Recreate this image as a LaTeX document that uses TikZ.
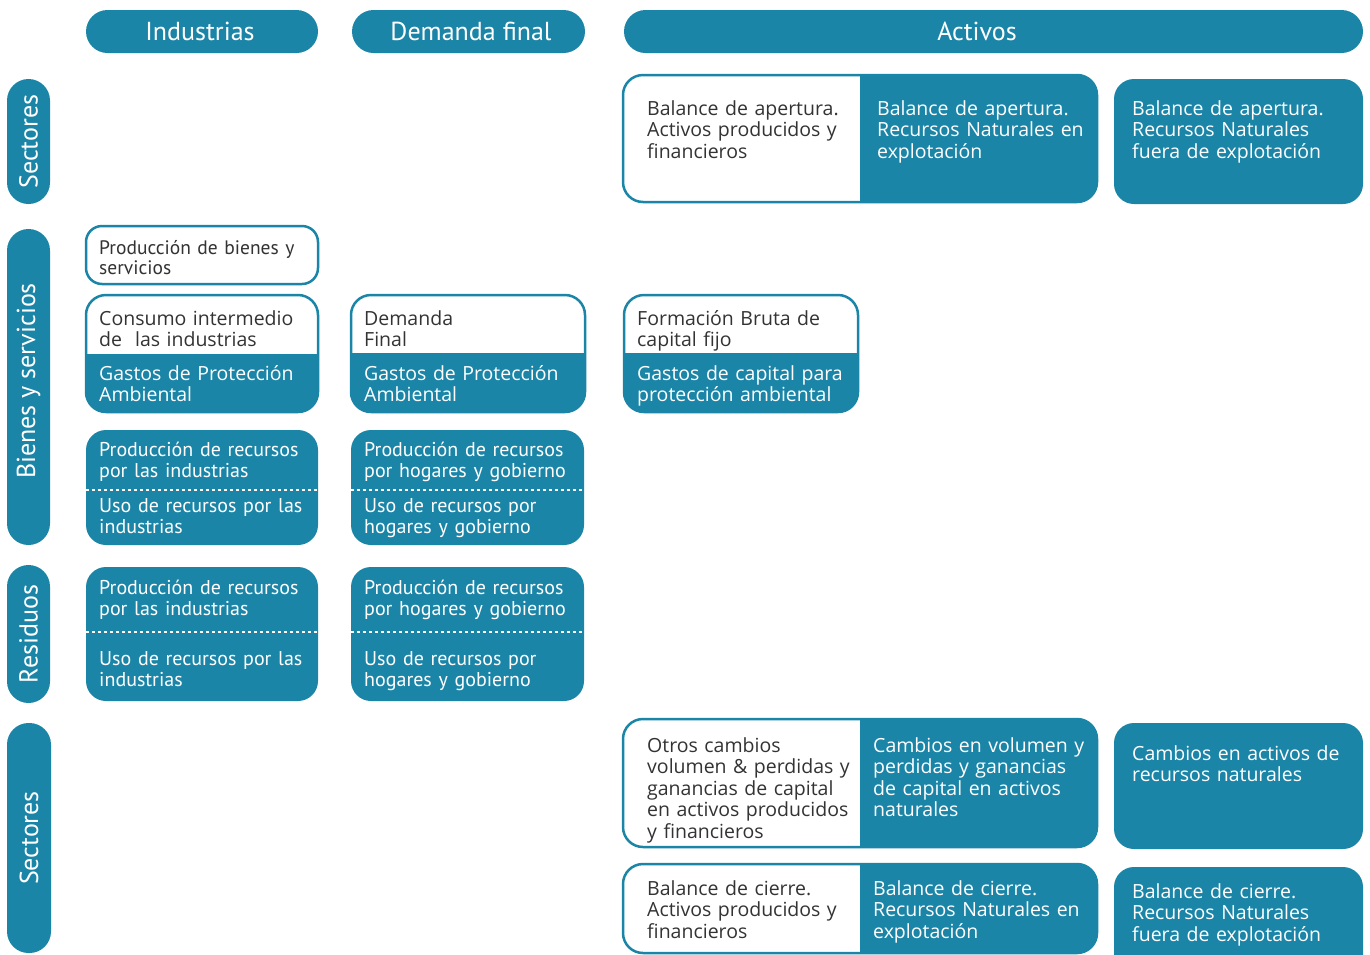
\documentclass[tikz,border=0pt]{standalone}
\usepackage{fontspec}
\setmainfont{Open Sans}
\newfontfamily\hdrfont{PT Sans}
\definecolor{teal1}{RGB}{27,133,168}
\definecolor{txt}{RGB}{51,51,51}
\newcommand\hsplitbox[6]{% x1 y1 x2 y2 ysplit radius
  \fill[teal1, rounded corners=#6] (#1,#2) rectangle (#3,#4);
  \begin{scope}
    \clip[rounded corners=#6] (#1,#2) rectangle (#3,#4);
    \fill[white] (#1,#2) rectangle (#3,#5);
  \end{scope}
  \draw[teal1, line width=2.5, rounded corners=#6] (#1,#2) rectangle (#3,#4);
}
\newcommand\vsplitbox[6]{% x1 y1 x2 y2 xsplit radius
  \fill[teal1, rounded corners=#6] (#1,#2) rectangle (#3,#4);
  \begin{scope}
    \clip[rounded corners=#6] (#1,#2) rectangle (#3,#4);
    \fill[white] (#1,#2) rectangle (#5,#4);
  \end{scope}
  \draw[teal1, line width=2.5, rounded corners=#6] (#1,#2) rectangle (#3,#4);
}
\begin{document}
\begin{tikzpicture}[x=1pt,y=-1pt,
  hdr/.style={text=white, inner sep=0, font=\hdrfont\fontsize{26}{28}\selectfont},
  side/.style={text=white, inner sep=0, rotate=90, font=\hdrfont\fontsize{26}{28}\selectfont},
  dk/.style={anchor=base west, inner sep=0, text width=250, align=left, text=txt, font=\fontsize{19.5}{21.5}\selectfont},
  wt/.style={anchor=base west, inner sep=0, text width=250, align=left, text=white, font=\fontsize{19.5}{21.5}\selectfont},
  tight/.style={font=\hdrfont\fontsize{20}{21.5}\selectfont},
  pill/.style={fill=teal1, rounded corners=21.5},
  tbox/.style={fill=teal1, rounded corners=20},
  wbox/.style={fill=white, draw=teal1, line width=2.5, rounded corners=16},
  dots/.style={white, line width=2, dash pattern=on 3 off 3}]
\useasboundingbox (0,0) rectangle (1370,954);
\clip (0,0) rectangle (1370,954);

% headers
\fill[pill] (86,10) rectangle (318,53);
\node[hdr] (hInd) at (200,31.5) {Industrias};
\fill[pill] (352,10) rectangle (585,53);
\node[hdr] (hDem) at (471,31.5) {Demanda final};
\fill[pill] (624,10) rectangle (1363,53);
\node[hdr] (hAct) at (977,31.5) {Activos};

% side labels
\fill[pill] (7,79) rectangle (50,204);
\node[side] (sSec1) at (28.5,141.5) {Sectores};
\fill[pill] (7,229) rectangle (50,545);
\node[side] (sBie) at (28.5,381) {Bienes y servicios};
\fill[pill] (7,565) rectangle (50,703);
\node[side] (sRes) at (28.5,634) {Residuos};
\fill[pill] (7,723) rectangle (51,953);
\node[side] (sSec2) at (29,838) {Sectores};

% opening balance
\vsplitbox{623}{75}{1097}{202}{860}{20}
\node[dk] (apA) at (647,115) {Balance de apertura.\\Activos producidos y\\financieros};
\node[wt] (apB) at (877,115) {Balance de apertura.\\Recursos Naturales en\\explotación};
\fill[tbox] (1114,79) rectangle (1363,204);
\node[wt] (apC) at (1132,115) {Balance de apertura.\\Recursos Naturales\\fuera de explotación};

% goods and services
\draw[wbox] (86,226) rectangle (318,284);
\node[dk, font=\hdrfont\fontsize{19.5}{20.5}\selectfont] (prodBS) at (99,254) {Producción de bienes y\\servicios};
\hsplitbox{86}{295}{318}{412}{354}{20}
\node[dk] (consI) at (99,325) {Consumo intermedio\\de~ las industrias};
\node[wt] (gpaI) at (99,380) {Gastos de Protección\\Ambiental};
\hsplitbox{351}{295}{585}{412}{353}{20}
\node[dk] (demF) at (364,325) {Demanda\\Final};
\node[wt] (gpaD) at (364,380) {Gastos de Protección\\Ambiental};
\hsplitbox{624}{295}{858}{412}{353}{20}
\node[dk] (fbcf) at (637,325) {Formación Bruta de\\capital fijo};
\node[wt] (gcpa) at (637,380) {Gastos de capital para\\protección ambiental};

% resources (goods)
\fill[tbox] (86,430) rectangle (318,545);
\draw[dots] (86,490) -- (318,490);
\node[wt, tight] (prI1) at (99,456) {Producción de recursos\\por las industrias};
\node[wt, tight] (usI1) at (99,512) {Uso de recursos por las\\industrias};
\fill[tbox] (351,430) rectangle (584,545);
\draw[dots] (351,490) -- (584,490);
\node[wt, tight] (prH1) at (364,456) {Producción de recursos\\por hogares y gobierno};
\node[wt, tight] (usH1) at (364,512) {Uso de recursos por\\hogares y gobierno};

% residues
\fill[tbox] (86,567) rectangle (318,701);
\draw[dots] (86,632) -- (318,632);
\node[wt, tight] (prI2) at (99,594) {Producción de recursos\\por las industrias};
\node[wt, tight] (usI2) at (99,665) {Uso de recursos por las\\industrias};
\fill[tbox] (351,567) rectangle (584,701);
\draw[dots] (351,632) -- (584,632);
\node[wt, tight] (prH2) at (364,594) {Producción de recursos\\por hogares y gobierno};
\node[wt, tight] (usH2) at (364,665) {Uso de recursos por\\hogares y gobierno};

% other changes
\vsplitbox{623}{719}{1097}{847}{860}{20}
\node[dk] (ocA) at (647,752) {Otros cambios\\volumen \& perdidas y\\ganancias de capital\\en activos producidos\\y financieros};
\node[wt] (ocB) at (873,752) {Cambios en volumen y\\perdidas y ganancias\\de capital en activos\\naturales};
\fill[tbox] (1114,723) rectangle (1363,849);
\node[wt] (ocC) at (1132,760) {Cambios en activos de\\recursos naturales};

% closing balance
\vsplitbox{623}{864}{1097}{953}{860}{20}
\node[dk] (ciA) at (647,895) {Balance de cierre.\\Activos producidos y\\financieros};
\node[wt] (ciB) at (873,895) {Balance de cierre.\\Recursos Naturales en\\explotación};
\fill[tbox] (1114,867) rectangle (1363,975);
\node[wt] (ciC) at (1132,898) {Balance de cierre.\\Recursos Naturales\\fuera de explotación};
\end{tikzpicture}
\end{document}
